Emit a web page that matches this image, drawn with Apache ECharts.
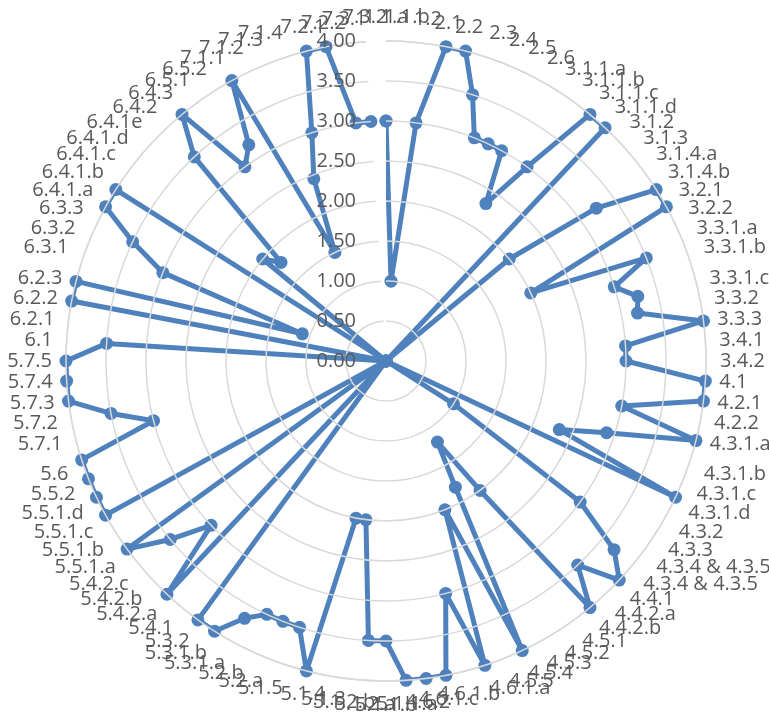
<!DOCTYPE html>
<html>
<head>
<meta charset="utf-8">
<script src="https://cdn.jsdelivr.net/npm/echarts@6/dist/echarts.min.js"></script>
<style>
  html, body { margin: 0; padding: 0; background: #fff; }
  #radar { width: 769px; height: 726px; }
</style>
</head>
<body>
<div id="radar"></div>
<script>
const categories = [
  '1.1.a', '1.1.b', '1.2', '2.1', '2.2', '2.3', '2.4', '2.5', '2.6',
  '3.1.1.a', '3.1.1.b', '3.1.1.c', '3.1.1.d', '3.1.2', '3.1.3', '3.1.4.a', '3.1.4.b',
  '3.2.1', '3.2.2', '3.3.1.a', '3.3.1.b', '3.3.1.c', '3.3.2', '3.3.3', '3.4.1', '3.4.2',
  '4.1', '4.2.1', '4.2.2', '4.3.1.a', '4.3.1.b', '4.3.1.c', '4.3.1.d', '4.3.2', '4.3.3',
  '4.3.4 & 4.3.5', '4.3.4 & 4.3.5', '4.4.1', '4.4.2.a', '4.4.2.b',
  '4.5.1', '4.5.2', '4.5.3', '4.5.4', '4.5.5', '4.6.1.a', '4.6.1.b', '4.6.1.c', '4.6.2',
  '5.1.1.a', '5.1.1.b', '5.1.2.a', '5.1.2.b', '5.1.3', '5.1.4', '5.1.5', '5.2.a', '5.2.b',
  '5.3.1.a', '5.3.1.b', '5.3.2', '5.4.1', '5.4.2.a', '5.4.2.b', '5.4.2.c',
  '5.5.1.a', '5.5.1.b', '5.5.1.c', '5.5.1.d', '5.5.2', '5.6',
  '5.7.1', '5.7.2', '5.7.3', '5.7.4', '5.7.5',
  '6.1', '6.2.1', '6.2.2', '6.2.3', '6.3.1', '6.3.2', '6.3.3',
  '6.4.1.a', '6.4.1.b', '6.4.1.c', '6.4.1.d', '6.4.1e', '6.4.2', '6.4.3', '6.5.1', '6.5.2',
  '7.1.1', '7.1.2', '7.1.3', '7.1.4', '7.2.1', '7.2.2', '7.3.1', '7.3.2'
]

// scores, same order as categories
const scores = [
  3.0, 1.0, 3.0, 4.0, 4.0, 3.5, 3.0, 3.0, 3.0,
  2.33, 3.0, 4.0, 4.0, 0, 2.0, 3.25, 4.0,
  4.0, 2.0, 3.5, 3.0, 3.25, 3.2, 4.0, 3.0, 3.0,
  4.0, 4.0, 3.0, 4.0, 2.9, 2.33, 4.0, 0, 1.0,
  3.0, 3.7, 4.0, 3.5, 4.0,
  2.0, 1.2, 1.8, 4.0, 2.0, 4.0, 3.0, 4.0, 4.0,
  4.0, 3.5, 3.5, 2.0, 2.0, 4.0, 3.5, 3.5, 3.5,
  3.67, 4.0, 4.0, 0, 4.0, 3.0, 3.5,
  4.0, 0, 4.0, 4.0, 4.0, 4.0,
  3.0, 3.5, 4.0, 4.0, 4.0,
  3.5, 0, 4.0, 4.0, 1.1, 3.0, 3.5,
  4.0, 4.0, 0, 2.0, 1.8, 3.5, 4.0, 3.0, 3.2,
  4.0, 1.5, 2.45, 3.0, 4.0, 4.0, 3.0, 3.0
]

const radiusTicks = [0, 0.5, 1, 1.5, 2, 2.5, 3, 3.5, 4]

// close the loop: [radius, category index]
let points = scores.map((v, i) => [v, i])
points.push([scores[0], 0])

let myChart = echarts.init(document.getElementById('radar'))
myChart.setOption({
  animation: false,
  textStyle: { fontFamily: 'Open Sans' },
  polar: {
    center: [386, 361],
    radius: 320
  },
  angleAxis: {
    type: 'category',
    data: categories,
    startAngle: 90,
    clockwise: true,
    boundaryGap: false,
    axisLine: { show: true, lineStyle: { color: '#d9d9d9', width: 1.5 } },
    axisTick: { show: false },
    splitLine: { show: false },
    axisLabel: {
      interval: 0,
      color: '#595959',
      fontSize: 20,
      margin: 14
    }
  },
  radiusAxis: {
    type: 'value',
    min: radiusTicks[0],
    max: radiusTicks[radiusTicks.length - 1],
    interval: 0.5,
    axisLine: { show: false },
    axisTick: { show: false },
    splitLine: { show: true, lineStyle: { color: '#d9d9d9', width: 1.5 } },
    axisLabel: {
      color: '#595959',
      fontSize: 20,
      margin: 30,
      formatter: v => v.toFixed(2)
    },
    z: 10
  },
  series: [
    {
      type: 'line',
      coordinateSystem: 'polar',
      data: points,
      clip: false,
      showAllSymbol: true,
      symbol: 'circle',
      symbolSize: 13,
      itemStyle: { color: '#4f81bd' },
      lineStyle: { color: '#4f81bd', width: 5 }
    }
  ]
})
</script>
</body>
</html>
